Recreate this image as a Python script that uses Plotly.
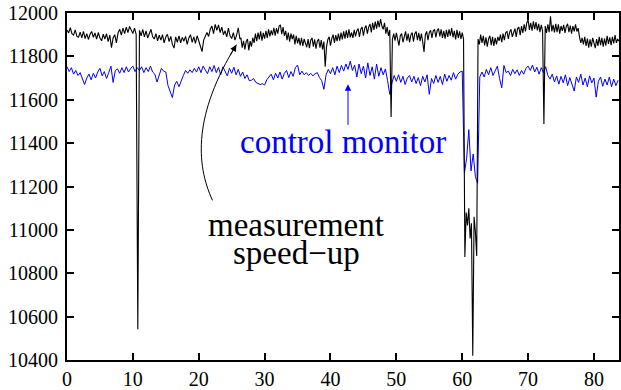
import numpy as np
import plotly.graph_objects as go

# measurement rate before the speed-up (every 0.25)
meas_slow = [
    11922, 11908, 11932, 11905, 11898, 11922, 11892, 11888,
    11912, 11885, 11915, 11882, 11905, 11878, 11902, 11915,
    11888, 11908, 11880, 11910, 11885, 11872, 11902, 11880,
    11905, 11868, 11898, 11840, 11885, 11900, 11862, 11908,
    11925, 11898, 11930, 11905, 11935, 11910, 11938, 11918,
    11905, 11930, 11902, 10542, 11920, 11895, 11925, 11890,
    11918, 11885, 11910, 11925, 11890, 11880, 11905, 11872,
    11898, 11875, 11900, 11862, 11890, 11902, 11868, 11892,
    11855, 11838, 11890, 11865, 11895, 11862, 11888, 11870,
    11892, 11855, 11885, 11900, 11865, 11890, 11860, 11895,
    11872, 11845, 11822, 11875, 11895, 11910, 11892, 11925,
    11940, 11905, 11948, 11920, 11945, 11910, 11935, 11900,
    11918, 11890, 11930, 11895, 11882, 11910, 11875, 11898,
    11932, 11880,
]
slow_start, slow_step = 0.0, 0.25

# measurement after the speed-up (every 0.2, from 26.4)
meas_fast = [
    11885, 11840, 11872, 11832, 11868,
    11880, 11828, 11870, 11845, 11886,
    11862, 11905, 11870, 11910, 11878,
    11915, 11872, 11908, 11882, 11918,
    11885, 11925, 11892, 11920, 11898,
    11932, 11895, 11930, 11905, 11940,
    11945, 11902, 11935, 11895, 11918,
    11875, 11910, 11868, 11905, 11880,
    11900, 11855, 11895, 11860, 11885,
    11850, 11885, 11848, 11880, 11862,
    11842, 11880, 11838, 11875, 11885,
    11845, 11878, 11835, 11870, 11880,
    11840, 11875, 11832, 11868, 11752,
    11845, 11878, 11890, 11850, 11882,
    11900, 11862, 11898, 11870, 11905,
    11872, 11910, 11878, 11915, 11882,
    11920, 11885, 11925, 11888, 11910,
    11885, 11922, 11892, 11918, 11928,
    11890, 11925, 11935, 11895, 11930,
    11942, 11905, 11935, 11950, 11910,
    11955, 11922, 11960, 11928, 11965,
    11935, 11972, 11940, 11925, 11955,
    11905, 11935, 11895, 11922, 11520,
    11880, 11905, 11872, 11908, 11878,
    11850, 11895, 11905, 11865, 11900,
    11915, 11872, 11905, 11865, 11898,
    11910, 11868, 11905, 11915, 11875,
    11908, 11870, 11905, 11868, 11820,
    11900, 11915, 11875, 11910, 11920,
    11885, 11918, 11925, 11888, 11920,
    11928, 11892, 11925, 11885, 11918,
    11882, 11922, 11890, 11925, 11895,
    11930, 11888, 11918, 11878, 11922,
    11885, 11915, 11880, 11910, 11880,
    10875, 11080, 11020, 11100, 10960,
    11030, 10420, 11060, 10990, 10880,
    11880, 11855, 11900, 11862, 11895,
    11850, 11888, 11845, 11880, 11895,
    11852, 11890, 11848, 11885, 11855,
    11890, 11872, 11900, 11865, 11905,
    11875, 11910, 11915, 11880, 11912,
    11925, 11890, 11915, 11928, 11890,
    11928, 11935, 11898, 11940, 11908,
    11948, 11915, 11955, 11968, 11922,
    11955, 11918, 11962, 11925, 11958,
    11920, 11950, 11912, 11945, 11918,
    11488, 11940, 11908, 11948, 11912,
    11985, 11915, 11945, 11910, 11950,
    11912, 11948, 11905, 11940, 11918,
    11945, 11908, 11938, 11950, 11912,
    11942, 11905, 11940, 11915, 11948,
    11915, 11930, 11890, 11862, 11885,
    11855, 11890, 11848, 11882, 11840,
    11878, 11845, 11885, 11852, 11838,
    11880, 11848, 11890, 11852, 11885,
    11845, 11882, 11850, 11895, 11858,
    11888, 11852, 11890, 11860, 11898,
    11862, 11880, 11870,
]
fast_start, fast_step = 26.4, 0.2

# control monitor (every 1/3)
monitor = [
    11752, 11730, 11748, 11718, 11735, 11712, 11725, 11695, 11670,
    11700, 11718, 11692, 11722, 11700, 11728, 11745, 11710, 11730,
    11698, 11725, 11755, 11680, 11735, 11742, 11722, 11748, 11725,
    11752, 11728, 11745, 11755, 11730, 11748, 11735, 11752, 11725,
    11748, 11730, 11755, 11728, 11718, 11682, 11720, 11745, 11732,
    11728, 11665, 11640, 11610, 11668, 11685, 11660, 11690, 11712,
    11735, 11722, 11738, 11725, 11745, 11728, 11752, 11725, 11755,
    11735, 11720, 11752, 11730, 11758, 11725, 11750, 11715, 11752,
    11730, 11710, 11745, 11722, 11750, 11715, 11740, 11708, 11728,
    11698, 11715, 11688, 11690, 11698, 11680, 11676, 11670, 11674,
    11668, 11692, 11705, 11718, 11692, 11722, 11700, 11728, 11695,
    11722, 11735, 11702, 11730, 11708, 11748, 11760, 11715, 11732,
    11715, 11725, 11712, 11722, 11710, 11720, 11725, 11702, 11688,
    11648, 11715, 11740, 11720, 11748, 11715, 11755, 11725, 11758,
    11732, 11765, 11740, 11778, 11735, 11760, 11705, 11765, 11720,
    11755, 11700, 11770, 11712, 11752, 11695, 11765, 11708, 11748,
    11715, 11742, 11688, 11625, 11678, 11712, 11685, 11715, 11680,
    11708, 11670, 11700, 11712, 11682, 11708, 11675, 11702, 11665,
    11708, 11682, 11715, 11625, 11698, 11675, 11712, 11680, 11708,
    11670, 11718, 11685, 11712, 11690, 11725, 11695, 11718, 11728,
    11732, 11262, 11330, 11462, 11272, 11350, 11245, 11215, 11705,
    11728, 11705, 11740, 11715, 11748, 11712, 11735, 11755, 11698,
    11655, 11758, 11725, 11732, 11712, 11740, 11720, 11738, 11712,
    11735, 11718, 11745, 11755, 11735, 11760, 11728, 11750, 11718,
    11748, 11725, 11752, 11712, 11695, 11718, 11682, 11710, 11672,
    11708, 11678, 11715, 11665, 11702, 11675, 11640, 11705, 11680,
    11718, 11668, 11700, 11660, 11710, 11678, 11700, 11612, 11685,
    11705, 11662, 11695, 11668, 11705, 11660, 11695, 11665, 11690,
]
mon_step = 1.0 / 3.0

x_ticks = [0, 10, 20, 30, 40, 50, 60, 70, 80]
y_ticks = [10400, 10600, 10800, 11000, 11200, 11400, 11600, 11800, 12000]

x_meas = np.concatenate([
    slow_start + slow_step * np.arange(len(meas_slow)),
    fast_start + fast_step * np.arange(len(meas_fast)),
])
y_meas = meas_slow + meas_fast
x_mon = mon_step * np.arange(len(monitor))

SERIF = "Liberation Serif"

fig = go.Figure()
fig.add_trace(go.Scatter(x=x_mon, y=monitor, mode="lines",
                         line=dict(color="#0000ff", width=1)))
fig.add_trace(go.Scatter(x=x_meas, y=y_meas, mode="lines",
                         line=dict(color="#000000", width=1.1)))

axis_common = dict(showline=True, linecolor="black", linewidth=2,
                   mirror="ticks", ticks="inside", ticklen=7,
                   tickwidth=1.5, tickcolor="black", showgrid=False,
                   zeroline=False, tickformat="d",
                   tickfont=dict(family=SERIF, size=20, color="black"))

fig.update_xaxes(range=[0, 83.8], tickvals=x_ticks, **axis_common)
fig.update_yaxes(range=[10400, 12000], tickvals=y_ticks,
                 ticklabelstandoff=3, **axis_common)

# curved pointer towards the speed-up
fig.add_shape(type="path",
              path="M 22.09,11136 C 19.52,11305 19.21,11534 25.72,11854",
              line=dict(color="black", width=1), xref="x", yref="y")
fig.add_annotation(x=25.72, y=11854, ax=-7, ay=12, axref="pixel",
                   text="", showarrow=True, arrowhead=2, arrowsize=1.3,
                   arrowwidth=1, arrowcolor="black", standoff=0)
fig.add_annotation(x=34.8, y=11022, text="measurement", showarrow=False,
                   font=dict(family=SERIF, size=33, color="black"))
fig.add_annotation(x=34.8, y=10892, text="speed\u2212up", showarrow=False,
                   font=dict(family=SERIF, size=33, color="black"))

# pointer to the monitor trace
fig.add_annotation(x=42.66, y=11671, ax=0, ay=42, text="", showarrow=True,
                   arrowhead=2, arrowsize=1.3, arrowwidth=1,
                   arrowcolor="#0000ff", standoff=0)
fig.add_annotation(x=41.9, y=11406, text="control monitor", showarrow=False,
                   font=dict(family=SERIF, size=33, color="#0000ff"))

fig.update_layout(width=621, height=390, showlegend=False,
                  margin=dict(l=67, r=0, t=13, b=27),
                  paper_bgcolor="white", plot_bgcolor="white")

fig.write_html("out.html")
